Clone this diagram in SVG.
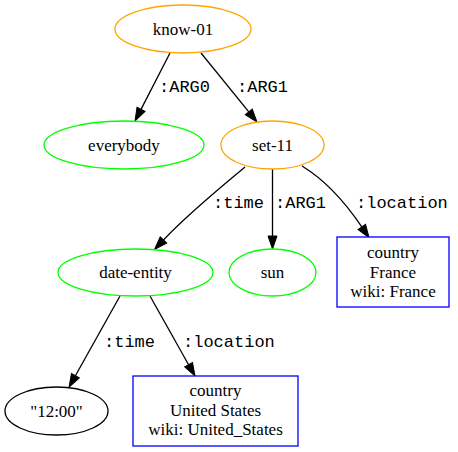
<svg xmlns="http://www.w3.org/2000/svg" width="458" height="452" viewBox="0 0 458 452">
<defs>
<marker id="ah" markerUnits="userSpaceOnUse" markerWidth="14" markerHeight="10" viewBox="0 -5 14 10" refX="0" refY="0" orient="auto" overflow="visible">
<path d="M0,-4.5 L13,0 L0,4.5 z" fill="#000" stroke="#000" stroke-width="1"/>
</marker>
<style>
.n{font-family:"Liberation Serif","Times New Roman",serif;font-size:17px;text-anchor:middle;fill:#000}
.l{font-family:"Liberation Mono","Courier New",monospace;font-size:17px;fill:#000}
.e{fill:none;stroke:#000;stroke-width:1.3;marker-end:url(#ah)}
.or{fill:#fff;stroke:#FFA500;stroke-width:1.3}
.gr{fill:#fff;stroke:#00FF00;stroke-width:1.3}
.bl{fill:#fff;stroke:#0000FF;stroke-width:1.3}
.bk{fill:#fff;stroke:#000;stroke-width:1.3}
</style>
</defs>
<rect width="458" height="452" fill="#fff"/>
<g id="edges">
<path class="e" d="M170,53 L141,109.4"/>
<path class="e" d="M201,53 L248.8,111.9"/>
<path class="e" d="M245,167 C225,184 190,212 163.5,240"/>
<path class="e" d="M272.5,169 L272.5,236"/>
<path class="e" d="M302,166 C325,180 345,202 361.8,226.9"/>
<path class="e" d="M120,296 L75.4,375.7"/>
<path class="e" d="M150,296 L188.6,364.7"/>
<text class="l" x="159" y="92">:ARG0</text>
<text class="l" x="237" y="92">:ARG1</text>
<text class="l" x="213" y="208">:time</text>
<text class="l" x="275" y="208">:ARG1</text>
<text class="l" x="356" y="208">:location</text>
<text class="l" x="104" y="347">:time</text>
<text class="l" x="183" y="347">:location</text>
</g>
<g id="know-01"><ellipse class="or" cx="183" cy="29" rx="68" ry="24"/><text class="n" x="183" y="34.5">know-01</text></g>
<g id="everybody"><ellipse class="gr" cx="124" cy="145" rx="80" ry="24"/><text class="n" x="124" y="150.5">everybody</text></g>
<g id="set-11"><ellipse class="or" cx="272.5" cy="145" rx="51.5" ry="24"/><text class="n" x="272.5" y="150.5">set-11</text></g>
<g id="date-entity"><ellipse class="gr" cx="135.5" cy="272.5" rx="77.5" ry="23.5"/><text class="n" x="135.5" y="278">date-entity</text></g>
<g id="sun"><ellipse class="gr" cx="272.5" cy="272.5" rx="43.5" ry="23.5"/><text class="n" x="272.5" y="278">sun</text></g>
<g id="france"><rect class="bl" x="337" y="237" width="112" height="70"/><text class="n" x="393" y="257.5">country</text><text class="n" x="393" y="277.5">France</text><text class="n" x="393" y="297">wiki: France</text></g>
<g id="time-1200"><ellipse class="bk" cx="56.5" cy="411" rx="51.5" ry="24"/><text class="n" x="56.5" y="416.5">"12:00"</text></g>
<g id="united-states"><rect class="bl" x="133" y="376" width="165" height="70"/><text class="n" x="215.5" y="395.5">country</text><text class="n" x="215.5" y="415.5">United States</text><text class="n" x="215.5" y="435">wiki: United_States</text></g>
</svg>
